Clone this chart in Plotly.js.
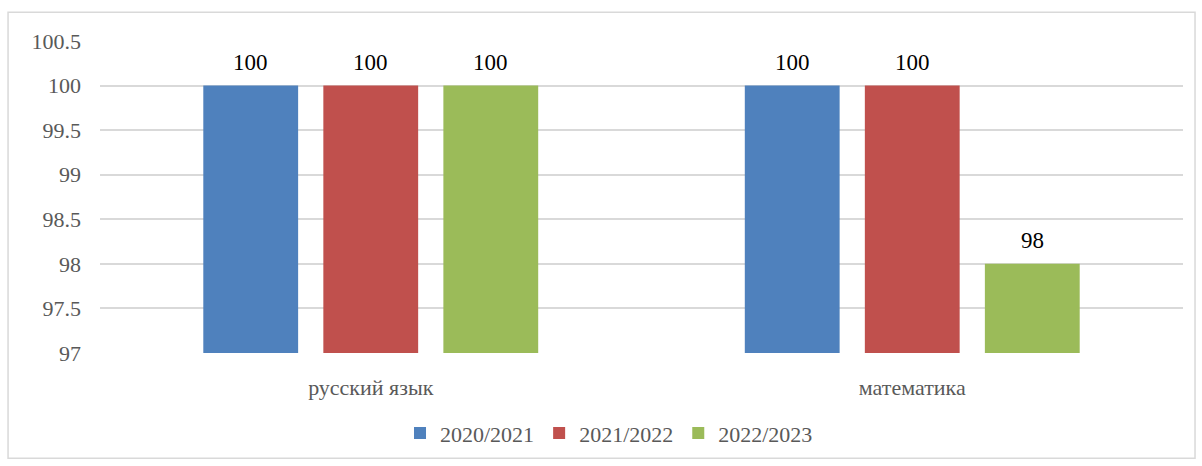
<!DOCTYPE html>
<html>
<head>
<meta charset="utf-8">
<script src="https://cdn.plot.ly/plotly-3.0.1.min.js"></script>
<style>html,body{margin:0;padding:0;background:#fff;}#chart{width:1202px;height:466px;}
#chart text{font-family:'Liberation Serif','Times New Roman',serif !important;}</style>
</head>
<body>
<div id="chart"></div>
<script>
const categories = ["русский язык", "математика"];
const seriesNames = ["2020/2021", "2021/2022", "2022/2023"];
const values2020 = [100, 100];
const values2021 = [100, 100];
const values2022 = [100, 98];
const colors = ["#4f81bd", "#c0504d", "#9bbb59"];
const allValues = [values2020, values2021, values2022];

const SERIF = "'Liberation Serif'";

const traces = allValues.map((vals, i) => ({
  type: "bar",
  name: seriesNames[i],
  x: categories,
  y: vals,
  marker: {color: colors[i]},
  hoverinfo: "none"
}));

// data labels from the data arrays, offset by series slot
const slotPx = 120;
const annotations = [];
allValues.forEach((vals, i) => {
  vals.forEach((v, j) => {
    annotations.push({
      x: categories[j], y: v, xref: "x", yref: "y",
      text: String(v), showarrow: false,
      xshift: (i - 1) * slotPx, yanchor: "bottom", yshift: 9,
      font: {family: SERIF, size: 23, color: "#000"}
    });
  });
});

const layout = {
  width: 1202, height: 466,
  margin: {l: 100, r: 19, t: 41, b: 110},
  paper_bgcolor: "#fff", plot_bgcolor: "#fff",
  barmode: "group",
  bargap: 0.335,
  bargroupgap: 0.21,
  font: {family: SERIF, color: "#595959"},
  xaxis: {
    showgrid: false, showline: false, zeroline: false, ticks: "",
    tickfont: {family: SERIF, size: 22, color: "#595959"},
    ticklabelstandoff: 19
  },
  yaxis: {
    range: [97, 100.5], dtick: 0.5, tick0: 97,
    showgrid: true, gridcolor: "#d9d9d9", gridwidth: 1.5,
    zeroline: false, showline: false, ticks: "",
    tickfont: {family: SERIF, size: 22, color: "#595959"},
    ticklabelstandoff: 18
  },
  showlegend: true,
  legend: {
    orientation: "h", x: 0.47, xanchor: "center", y: -0.19, yanchor: "top",
    font: {family: SERIF, size: 22, color: "#595959"},
    itemwidth: 30,
    traceorder: "normal"
  },
  annotations: annotations,
  shapes: [{
    type: "rect", xref: "paper", yref: "paper",
    x0: -0.0849, x1: 1.0111, y0: -0.337, y1: 1.0921,
    line: {color: "#d9d9d9", width: 1.5}, fillcolor: "rgba(0,0,0,0)", layer: "below"
  }]
};

Plotly.newPlot("chart", traces, layout, {displayModeBar: false});
</script>
</body>
</html>
